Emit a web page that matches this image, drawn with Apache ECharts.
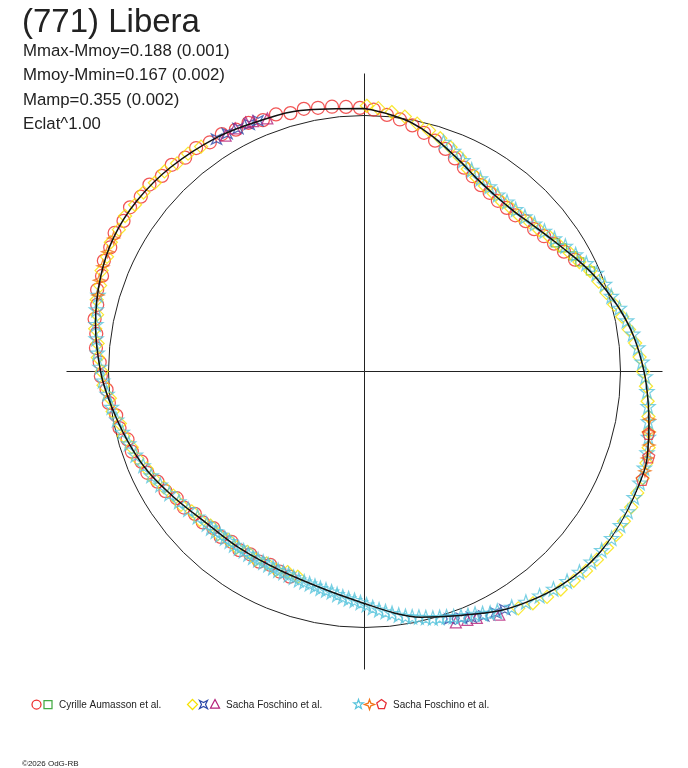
<!DOCTYPE html>
<html><head><meta charset="utf-8">
<script src="https://cdn.jsdelivr.net/npm/echarts@6/dist/echarts.min.js"></script>
<style>html,body{margin:0;padding:0;background:#fff}#c{width:688px;height:768px}</style>
</head><body><div id="c"></div>
<script>
// ---- texts ----
const titleText = '(771) Libera';
const infoLines = ['Mmax-Mmoy=0.188 (0.001)', 'Mmoy-Mmin=0.167 (0.002)', 'Mamp=0.355 (0.002)', 'Eclat^1.00'];
const legendLabels = ['Cyrille Aumasson et al.', 'Sacha Foschino et al.', 'Sacha Foschino et al.'];
const footerText = '\u00a92026 OdG-RB';

// ---- data: [phase angle (deg, clockwise from top), relative flux radius (%)] ----
const fitCurve = [[0,102.7],[5,101.1],[10.5,99.0],[16.5,95.4],[24.5,90.2],[30.5,87.1],[36,85.7],[40,85.4],[44,85.7],[48.3,86.9],[52,88.3],[56.5,90.4],[60,92.4],[63.2,94.5],[66.5,96.7],[70.6,99.1],[76.6,102.8],[82.7,106.1],[90,109.2],[95.8,111.3],[101.1,113.2],[105.6,114.9],[108.8,115.9],[115,116.1],[120,116.3],[125.4,116.2],[131.1,115.4],[137.5,113.4],[144.1,110.5],[150.4,107.4],[158.5,102.4],[167.2,98.4],[173,95.0],[180,90.6],[189.7,86.7],[202.9,84.4],[215,84.5],[225.9,85.5],[236.6,89.2],[245.5,93.3],[253.8,96.5],[262.7,100],[270,103.1],[280,106.7],[289.7,109.5],[298.2,111.1],[307,111.1],[316.5,110.0],[327.8,108.1],[337.5,106.1],[346.2,105.0],[360,102.7]];

const aumassonCircle = [[200,85.3],[203,84.9],[206,84.0],[209,84.9],[212,84.2],[215,85.2],[218,84.4],[221,85.6],[224,85.0],[227,86.4],[230,86.5],[233,88.3],[236,88.5],[239,90.7],[242,91.6],[245,93.6],[248,94.0],[251,96.1],[254,96.3],[257,98.2],[260,98.5],[263,100.6],[266,101.0],[269,103.0],[272,103.5],[275,105.3],[278,105.8],[281,107.4],[284,107.6],[287,109.2],[290,109.1],[293,110.6],[296,110.5],[299,111.6],[302,111.0],[305,111.8],[308,110.9],[311,111.3],[314,110.0],[317,110.4],[320,109.0],[323,109.3],[326,108.0],[329,108.2],[332,107.0],[335,107.2],[338,105.9],[341,106.2],[344,105.0],[347,105.3],[350,104.6],[353,104.2],[356,103.6],[359,103.0],[2,102.4],[5,100.6],[8,99.4],[11,97.9],[14,96.1],[17,94.3],[20,92.5],[23,90.4],[26,88.6],[29,87.2],[32,85.8],[35,85.2],[38,84.6],[41,84.7],[44,84.8],[47,86.1],[50,86.5],[53,87.8],[56,89.3],[59,90.9],[62,93.1]];
const aumassonSquare = [[56,89.8],[58,91.2],[61,93.2],[63,94.4],[66,96.6]];

const foschinoDiamond = [[0.5,103.8],[3,103.0],[6,101.9],[9,100.8],[12,99.0],[15,97.5],[18,95.8],[21,93.8],[24,91.6],[27,88.8],[30,87.5],[33,86.4],[36,85.9],[39,85.3],[42,85.7],[45,85.8],[48,87.0],[51,87.8],[54,89.4],[57,90.6],[60,92.6],[63,94.2],[66,96.5],[69,98.0],[72,99.4],[75,101.0],[78,102.9],[81,104.6],[84,106.3],[87,107.6],[90,108.8],[93,110.1],[96,111.2],[99,112.3],[102,113.5],[105,114.9],[108,115.8],[111,116.4],[114,116.6],[117,116.9],[120,117.0],[123,117.2],[126,117.1],[129,116.8],[132,116.4],[135,115.6],[138,114.6],[141,113.3],[144,111.9],[147,110.3],[198,84.3],[201,83.9],[204,84.8],[207,84.1],[210,84.9],[213,84.0],[216,85.0],[219,84.6],[222,85.5],[225,85.1],[228,86.6],[231,86.8],[234,88.6],[237,89.0],[240,90.5],[243,92.4],[246,93.2],[249,95.0],[252,95.6],[255,97.4],[258,97.7],[261,99.6],[264,100.0],[267,102.1],[270,102.6],[273,104.3],[276,104.8],[279,106.5],[282,106.8],[285,108.3],[288,108.6],[291,110.0],[294,110.1],[297,111.2],[300,110.8],[303,111.5],[306,110.8],[309,111.1],[312,110.2],[315,110.5],[318,109.4],[321,109.5],[324,108.6]];
const foschinoAstroid = [[327.5,107.6],[330,107.3],[332.5,107.0],[335,106.5],[337,106.4],[149.5,107.9],[151.5,107.3],[154,106.2],[156.5,104.7],[158.5,103.6],[161,102.2]];
const foschinoTriangle = [[329.5,106.9],[332,107.6],[334.5,107.8],[336,107.0],[339,105.9],[151,108.6],[155.5,105.8],[157.5,105.0],[160,104.3]];

const foschinoStar = [[19,94.8],[22,92.9],[25,91.0],[28,89.2],[31,87.9],[34,87.2],[37,86.5],[40,86.6],[43,86.6],[46,87.1],[49,88.0],[52,89.2],[55,90.6],[58,92.5],[61,94.3],[64,96.4],[67,98.4],[70,99.8],[73,100.8],[76,102.6],[79,104.3],[82,105.8],[85,107.2],[88,108.5],[91,109.7],[94,110.6],[97,111.6],[100,112.6],[103,113.8],[106,114.8],[109,115.6],[112,116.0],[115,116.2],[118,116.5],[121,116.6],[124,116.4],[127,116.0],[130,115.6],[133,114.8],[136,113.9],[139,112.5],[142,111.1],[145,109.9],[148,108.5],[151,107.0],[152.5,106.3],[154,105.2],[155.5,104.1],[157,103.4],[158.5,102.8],[160,101.8],[161.5,101.0],[163,100.4],[164.5,99.9],[166,99.0],[167.5,98.2],[169,97.6],[170.5,96.9],[172,96.0],[173.5,95.0],[175,94.1],[176.5,93.2],[178,92.2],[179.5,91.1],[181,90.2],[182.5,89.4],[184,88.9],[185.5,88.4],[187,87.7],[188.5,87.0],[190,86.6],[191.5,86.4],[193,86.0],[194.5,85.6],[196,85.4],[197.5,85.3],[199,85.0],[200.5,84.7],[202,84.6],[203.5,84.6],[205,84.5],[206.5,84.3],[208,84.3],[209.5,84.4],[211,84.6],[212.5,84.5],[214,84.4],[215.5,84.6],[217,84.8],[218.5,84.7],[220,84.9],[221.5,85.1],[223,85.3],[224.5,85.6],[226,85.7],[229,86.4],[232,87.4],[235,88.5],[238,89.9],[241,91.2],[244,92.7],[247,93.9],[250,95.2],[253,96.3],[256,97.5],[259,98.6],[262,99.8],[265,100.9],[268,102.3],[271,103.4],[274,104.6],[277,105.6],[280,106.5],[283,107.5],[286,108.3]];
const foschinoFourStar = [[286,108.3],[289,109.5],[292,110.2],[295,110.7],[298,111.0],[99.5,112.8],[102,113.6],[104.5,114.8],[107,115.5],[109.5,116.2]];
const foschinoPentagon = [[102.3,113.6],[106.7,115.9],[111.2,116.4]];

// ---- symbol outlines (unit box +-10) ----
const V_DIAMOND = [[0,-10],[10,0],[0,10],[-10,0]];
const V_TRI = [[0,-10],[10,9],[-10,9]];
const V_STAR5 = [[0,-10],[2.351,-3.236],[9.511,-3.09],[3.804,1.236],[5.878,8.09],[0,4],[-5.878,8.09],[-3.804,1.236],[-9.511,-3.09],[-2.351,-3.236]];
const V_STAR4 = [[0,-10],[2.6,-2.6],[10,0],[2.6,2.6],[0,10],[-2.6,2.6],[-10,0],[-2.6,-2.6]];
const V_ASTROID = [[-10,-10],[0,-5],[10,-10],[5,0],[10,10],[0,5],[-10,10],[-5,0]];
const V_PENTA = [[0,-10],[9.511,-3.09],[5.878,8.09],[-5.878,8.09],[-9.511,-3.09]];
const toPath = v => 'path://M' + v.map(p => p.join(',')).join('L') + 'Z';

const COL = {
  circle: '#ee2a2a', square: '#44aa44', diamond: '#f7e200', astroid: '#2a48a8',
  tri: '#b5207a', star: '#58c4dc', star4: '#f27418', penta: '#e62e36'
};
const SW = 1.25;

function scat(pts, symbol, size, color, z) {
  return {
    type: 'scatter', coordinateSystem: 'polar', polarIndex: 0,
    data: pts.map(([a, r]) => [r, a]), symbol, symbolSize: size,
    clip: false, silent: true, z,
    itemStyle: { color: 'rgba(0,0,0,0)', borderColor: color, borderWidth: SW }
  };
}

const CX = 364.5, CY = 371.5, R = 298, RMAX = 116.4;

function poly(v, cx, cy, s, color) {
  return { type: 'polygon', silent: true,
    shape: { points: v.map(([x, y]) => [cx + x * s / 20, cy + y * s / 20]) },
    style: { fill: 'none', stroke: color, lineWidth: SW } };
}
const FONT = '"Liberation Sans", Arial, sans-serif';
function txt(t, x, y, size) {
  return { type: 'text', x, y, silent: true,
    style: { text: t, fill: '#222', font: size + 'px ' + FONT, align: 'left', verticalAlign: 'middle' } };
}

const LY = 704.5;
const graphics = [
  txt(titleText, 22, 23, 33),
  txt(infoLines[0], 23, 51, 16.8),
  txt(infoLines[1], 23, 75.5, 16.8),
  txt(infoLines[2], 23, 100, 16.8),
  txt(infoLines[3], 23, 124.5, 16.8),
  { type: 'circle', silent: true, shape: { cx: 36.5, cy: LY, r: 4.5 }, style: { fill: 'none', stroke: COL.circle, lineWidth: SW } },
  { type: 'rect', silent: true, shape: { x: 44, y: LY - 4, width: 8, height: 8 }, style: { fill: 'none', stroke: COL.square, lineWidth: SW } },
  txt(legendLabels[0], 59, LY + 0.5, 10),
  poly(V_DIAMOND, 192.5, LY, 10, COL.diamond),
  poly(V_ASTROID, 203.5, LY, 8, COL.astroid),
  poly(V_TRI, 215, LY - 0.5, 9, COL.tri),
  txt(legendLabels[1], 226, LY + 0.5, 10),
  poly(V_STAR5, 358.5, LY, 10, COL.star),
  poly(V_STAR4, 369.5, LY, 10, COL.star4),
  poly(V_PENTA, 381.5, LY, 10, COL.penta),
  txt(legendLabels[2], 393, LY + 0.5, 10),
  txt(footerText, 22, 763.5, 8)
];

const chart = echarts.init(document.getElementById('c'), null, { renderer: 'canvas' });
chart.setOption({
  animation: false,
  backgroundColor: '#fff',
  polar: { center: [CX, CY], radius: R },
  angleAxis: {
    type: 'value', min: 0, max: 360, interval: 90, startAngle: 90, clockwise: true,
    axisLine: { show: false }, axisTick: { show: false }, axisLabel: { show: false },
    splitLine: { show: true, lineStyle: { color: '#222', width: 1 } }
  },
  radiusAxis: {
    type: 'value', min: 0, max: RMAX, interval: 100,
    axisLine: { show: false }, axisTick: { show: false }, axisLabel: { show: false },
    splitLine: { show: true, lineStyle: { color: ['rgba(0,0,0,0)', '#222', 'rgba(0,0,0,0)'], width: 1 } }
  },
  graphic: graphics,
  series: [
    scat(aumassonCircle, 'circle', 13, COL.circle, 2),
    scat(aumassonSquare, 'rect', 8, COL.square, 2),
    scat(foschinoDiamond, toPath(V_DIAMOND), 13, COL.diamond, 3),
    scat(foschinoAstroid, toPath(V_ASTROID), 10, COL.astroid, 3),
    scat(foschinoTriangle, toPath(V_TRI), 11, COL.tri, 3),
    scat(foschinoStar, toPath(V_STAR5), 14, COL.star, 4),
    scat(foschinoFourStar, toPath(V_STAR4), 12, COL.star4, 4),
    scat(foschinoPentagon, toPath(V_PENTA), 12, COL.penta, 4),
    {
      type: 'line', coordinateSystem: 'polar', polarIndex: 0,
      data: fitCurve.map(([a, r]) => [r, a]), smooth: 0.35,
      showSymbol: false, symbol: 'none', clip: false, silent: true, z: 10,
      lineStyle: { color: '#111', width: 1.5 }
    }
  ]
});
</script>
</body></html>
